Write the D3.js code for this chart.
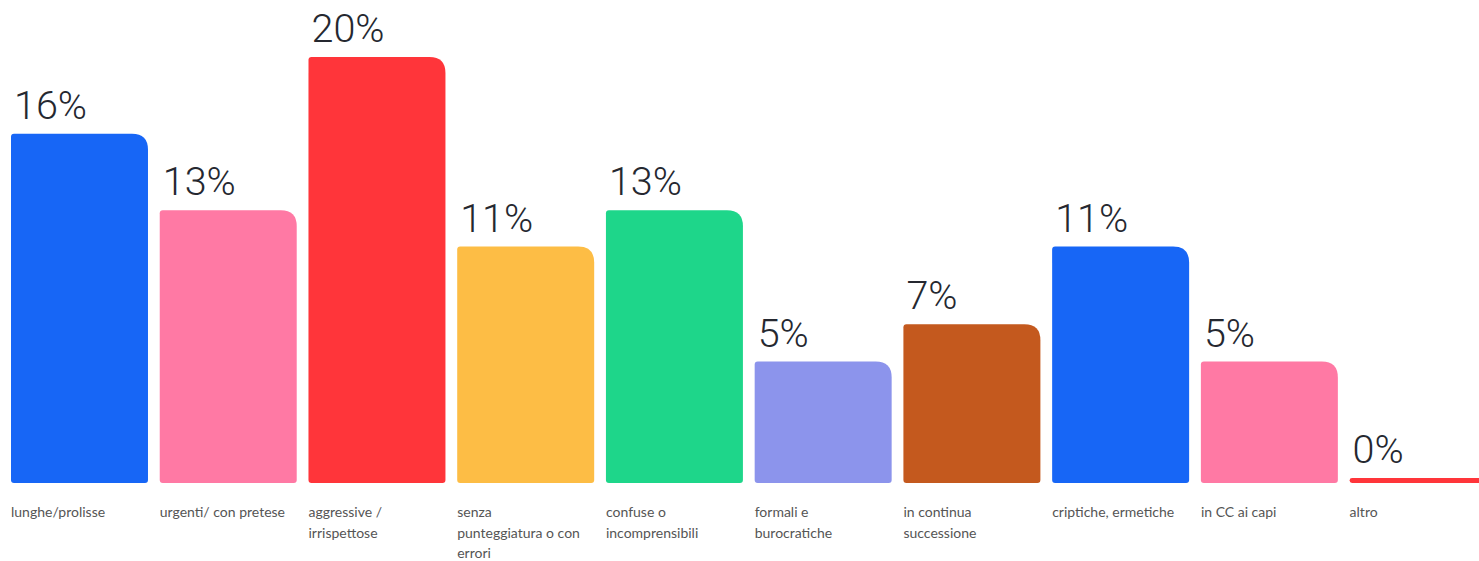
<!DOCTYPE html>
<html><head><meta charset="utf-8">
<script src="https://cdn.jsdelivr.net/npm/d3@7"></script>
<style>html,body{margin:0;padding:0;background:#fff;overflow:hidden}</style>
</head><body>
<svg id="c" width="1479" height="561"></svg>
<script>
const categories = ["lunghe/prolisse","urgenti/ con pretese","aggressive /\nirrispettose","senza\npunteggiatura o con\nerrori","confuse o\nincomprensibili","formali e\nburocratiche","in continua\nsuccessione","criptiche, ermetiche","in CC ai capi","altro"];
const values = [16.4, 12.8, 20.0, 11.1, 12.8, 5.7, 7.45, 11.1, 5.7, 0.23];
const valueLabels = ["16%","13%","20%","11%","13%","5%","7%","11%","5%","0%"];
const colors = ["#1766F6","#FF79A4","#FF353A","#FDBD45","#1ED68A","#8C94EC","#C4591E","#1766F6","#FF79A4","#FF353A"];

const svg = d3.select("#c");
const x = d3.scaleBand().domain(categories).range([11, 1486.6]).paddingInner(0.079).paddingOuter(0);
const y = d3.scaleLinear().domain([0, 20]).range([483, 57]);

function barPath(x0, y0, w, h) {
  const rtr = Math.min(16, h/2), rtl = Math.min(3, h/2), rb = Math.min(3, h/2);
  const x1 = x0 + w, y1 = y0 + h;
  return `M${x0},${y0+rtl} Q${x0},${y0} ${x0+rtl},${y0} L${x1-rtr},${y0} Q${x1},${y0} ${x1},${y0+rtr} L${x1},${y1-rb} Q${x1},${y1} ${x1-rb},${y1} L${x0+rb},${y1} Q${x0},${y1} ${x0},${y1-rb} Z`;
}

const g = svg.selectAll("g.bar").data(categories).enter().append("g").attr("class","bar");
g.append("path")
  .attr("d", (d,i) => barPath(x(d), y(values[i]), x.bandwidth(), y(0) - y(values[i])))
  .attr("fill", (d,i) => colors[i]);
g.append("text")
  .attr("x", d => x(d) + 3)
  .attr("y", (d,i) => y(values[i]) - 15)
  .attr("font-family", "Roboto, sans-serif")
  .attr("font-weight", 300)
  .attr("font-size", 39.5)
  .attr("fill", "#252830")
  .text((d,i) => valueLabels[i]);
const t = g.append("text")
  .attr("font-family", "Lato, sans-serif")
  .attr("font-size", 14)
  .attr("fill", "#555")
  .attr("y", 517);
t.selectAll("tspan").data(d => d.split("\n").map(l => ({l, d}))).enter().append("tspan")
  .attr("x", o => x(o.d))
  .attr("dy", (o,j) => j === 0 ? 0 : 20.5)
  .text(o => o.l);
</script>
</body></html>
